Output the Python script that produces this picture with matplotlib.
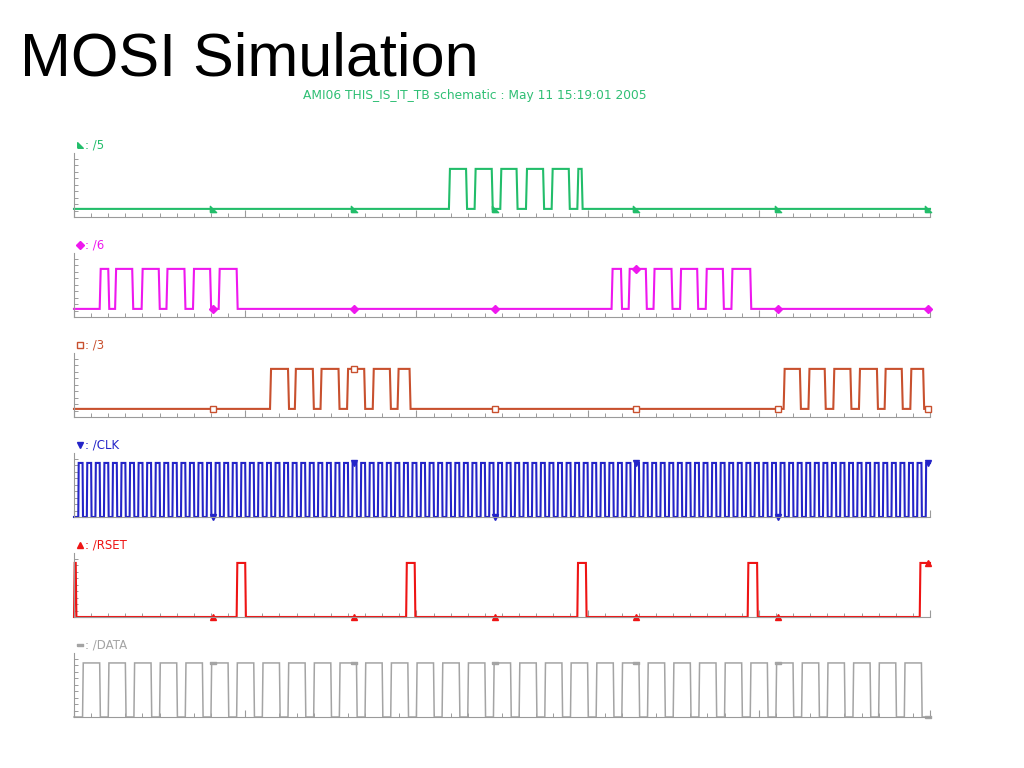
import numpy as np
import matplotlib.pyplot as plt
from matplotlib.ticker import MultipleLocator

W, H = 1024, 768

# time axis measured in clock periods
t_end = 100.0

# /CLK and /DATA are periodic
clk_period = 1.0
clk_cycles = 100
data_period = 3.0
data_pulses = 33
data_first_rise = 1.0
data_high_time = 2.0

# slave select outputs: rising / falling edge times
s5_rise = [43.8, 46.8, 49.8, 52.8, 55.8, 58.8]
s5_fall = [45.8, 48.8, 51.7, 54.8, 57.8, 59.3]
s6_rise = [3.0, 4.8, 7.9, 10.8, 13.9, 16.9, 62.8, 64.8, 67.7, 70.8, 73.8, 76.8]
s6_fall = [4.0, 6.8, 9.9, 12.9, 15.9, 19.0, 63.9, 66.8, 69.8, 72.8, 75.8, 79.0]
s3_rise = [22.9, 25.8, 28.8, 31.9, 34.9, 37.8, 82.9, 85.8, 88.7, 91.7, 94.7, 97.7]
s3_fall = [25.0, 27.9, 30.9, 33.9, 36.9, 39.2, 84.8, 87.7, 90.7, 93.8, 96.7, 99.2]
rset_rise = [0.0, 19.0, 38.8, 58.8, 78.7, 98.8]
rset_fall = [0.2, 20.0, 39.8, 59.8, 79.8, 100.0]

# voltage levels
slave_low, slave_high = 0.75, 4.45
logic_low, logic_high = 0.0, 5.0

# times where the waveform viewer drew its point markers
marker_t = [16.2, 32.7, 49.2, 65.7, 82.2, 99.8]

clk_rise = [clk_period * (k + 0.5) for k in range(clk_cycles)]
clk_fall = [clk_period * (k + 1.0) for k in range(clk_cycles)]
data_rise = [data_first_rise + data_period * k for k in range(data_pulses)]
data_fall = [r + data_high_time for r in data_rise]


def trace(rises, falls, lo, hi, tr):
    t, y = [], []
    if rises[0] > 0:
        t.append(0.0)
        y.append(lo)
    for r, f in zip(rises, falls):
        t += [r, r + tr]
        y += [lo, hi]
        if f < t_end:
            t += [f, f + tr]
            y += [hi, lo]
    t.append(t_end)
    y.append(y[-1])
    return np.array(t), np.array(y)


flag = [(-1, -1), (1, -1), (-1, 1), (-1, -1)]
bar = [(-1, -0.45), (1, -0.45), (1, 0.45), (-1, 0.45), (-1, -0.45)]

signals = [
    ("/5", s5_rise, s5_fall, slave_low, slave_high, 0.12, "#22bd6a", flag, "#22bd6a", 1.5),
    ("/6", s6_rise, s6_fall, slave_low, slave_high, 0.12, "#ee18ee", "D", "#ee18ee", 1.5),
    ("/3", s3_rise, s3_fall, slave_low, slave_high, 0.12, "#c8502e", "s", "white", 1.5),
    ("/CLK", clk_rise, clk_fall, logic_low, logic_high, 0.05, "#2424c8", "v", "#2424c8", 1.5),
    ("/RSET", rset_rise, rset_fall, logic_low, logic_high, 0.08, "#ee1414", "^", "#ee1414", 1.5),
    ("/DATA", data_rise, data_fall, logic_low, logic_high, 0.08, "#a4a4a4", bar, "#a4a4a4", 1.1),
]

fig = plt.figure(figsize=(W / 100, H / 100), dpi=100)
fig.text(20 / W, 1 - 76 / H, "MOSI Simulation", fontsize=44,
         family="Liberation Sans", color="black", va="baseline")
fig.text(475 / W, 1 - 95 / H, "AMI06 THIS_IS_IT_TB schematic : May 11 15:19:01 2005",
         fontsize=8.8, color="#2fbf74", ha="center", va="center")

axis_grey = "#9a9a9a"
for i, (name, rises, falls, lo, hi, tr, color, mk, mfc, lw) in enumerate(signals):
    bottom_px = 217 + 100 * i
    ax = fig.add_axes([74 / W, 1 - bottom_px / H, 856 / W, 64 / H])
    ax.set_xlim(0, t_end)
    ax.set_ylim(0, 5.92)
    for s in ("top", "right"):
        ax.spines[s].set_visible(False)
    for s in ("left", "bottom"):
        ax.spines[s].set_color(axis_grey)
        ax.spines[s].set_linewidth(0.8)
    ax.xaxis.set_major_locator(MultipleLocator(20))
    ax.xaxis.set_minor_locator(MultipleLocator(2))
    ax.yaxis.set_major_locator(MultipleLocator(0.6))
    ax.tick_params(which="major", axis="x", direction="in", length=5, color=axis_grey, width=0.8)
    ax.tick_params(which="minor", axis="x", direction="in", length=3, color=axis_grey, width=0.7)
    ax.tick_params(axis="y", direction="in", length=3, color=axis_grey, width=0.7)
    ax.tick_params(labelbottom=False, labelleft=False)
    ax.patch.set_alpha(0)

    t, y = trace(rises, falls, lo, hi, tr)
    ax.plot(t, y, color=color, lw=lw, clip_on=False, solid_joinstyle="miter")
    my = np.interp(marker_t, t, y)
    ax.plot(marker_t, my, ls="none", marker=mk, ms=4.5, color=color, mfc=mfc,
            mew=1.0, clip_on=False)

    # signal name above the panel
    ly = 1 + 8 / 64
    ax.plot([6 / 856], [ly], marker=mk, ms=4, color=color, mfc=mfc, mew=1.0,
            transform=ax.transAxes, clip_on=False)
    ax.text(11 / 856, ly, ": " + name, transform=ax.transAxes, fontsize=8.5,
            color=color, va="center", ha="left")

fig.savefig("out.png", dpi=100)
